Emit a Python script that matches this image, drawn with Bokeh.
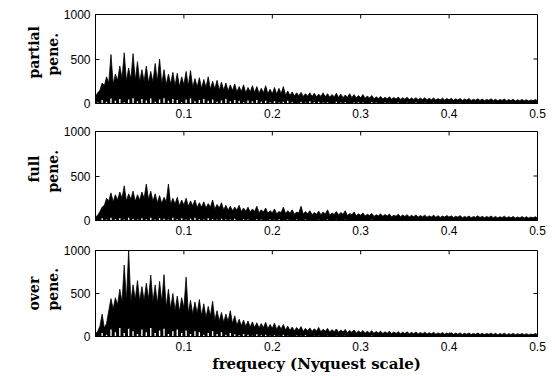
from bokeh.plotting import figure
from bokeh.models import Range1d, FixedTicker, Title
from bokeh.layouts import column
from bokeh.embed import file_html
from bokeh.resources import INLINE

# ---------------- data ----------------
x_ticks = [0.1, 0.2, 0.3, 0.4, 0.5]
y_ticks = [0, 500, 1000]
bin_width = 0.005  # frequency bins of 0.005 (Nyquist scale)
panel_labels = [["partial", "pene."], ["full", "pene."], ["over", "pene."]]
x_label = "frequecy (Nyquest scale)"

# spike tips per bin
partial_peaks = [120, 230, 300, 550, 330, 420, 570, 400, 560, 470,
                 380, 420, 360, 450, 500, 380, 330, 350, 340, 300,
                 360, 370, 280, 290, 270, 300, 250, 260, 240, 230,
                 210, 220, 190, 210, 180, 200, 190, 170, 200, 160,
                 180, 170, 190, 140, 130, 120, 125, 110, 120, 115,
                 105, 120, 110, 100, 115, 105, 95, 110, 100, 90,
                 100, 85, 90, 75, 80, 70, 75, 68, 72, 65,
                 70, 62, 66, 60, 64, 58, 62, 55, 60, 56,
                 58, 52, 56, 50, 55, 48, 53, 50, 46, 52,
                 48, 45, 50, 44, 47, 42, 46, 43, 40, 45]
# dips of the dense black body between spikes
partial_body = [80, 150, 200, 230, 220, 260, 280, 250, 270, 260,
                240, 250, 230, 240, 250, 220, 210, 220, 200, 190,
                210, 200, 180, 185, 170, 180, 160, 165, 150, 150,
                140, 145, 130, 135, 120, 130, 125, 115, 120, 110,
                110, 105, 110, 95, 90, 85, 88, 80, 82, 78,
                75, 80, 75, 70, 74, 68, 65, 70, 66, 62,
                64, 58, 60, 52, 55, 50, 52, 48, 50, 46,
                48, 44, 46, 42, 45, 40, 43, 38, 41, 39,
                40, 36, 39, 35, 38, 34, 37, 35, 32, 36,
                33, 31, 35, 30, 33, 29, 32, 30, 28, 31]
# white gaps under the body, per bin
partial_floor = [10, 40, 20, 55, 30, 50, 15, 45, 60, 25,
                 50, 35, 55, 20, 45, 60, 30, 50, 40, 15,
                 45, 55, 25, 40, 50, 30, 45, 20, 35, 50,
                 25, 40, 30, 15, 35, 25, 40, 20, 30, 15,
                 25, 10, 20, 30, 15, 5, 20, 10, 25, 15,
                 20, 10, 15, 5, 20, 10, 15, 5, 10, 15,
                 10, 5, 15, 10, 5, 12, 8, 5, 10, 6,
                 8, 4, 10, 5, 8, 3, 9, 5, 7, 4,
                 6, 3, 8, 4, 6, 2, 7, 4, 5, 3,
                 6, 2, 5, 3, 6, 2, 4, 3, 5, 2]

full_peaks = [60, 150, 250, 310, 290, 320, 390, 300, 330, 290,
              320, 410, 330, 300, 280, 260, 410, 250, 260, 230,
              250, 220, 230, 200, 210, 190, 230, 180, 200, 170,
              160, 150, 170, 140, 150, 130, 160, 120, 140, 110,
              130, 100, 150, 110, 120, 95, 160, 100, 110, 90,
              105, 95, 120, 85, 100, 90, 110, 80, 95, 75,
              85, 70, 80, 65, 75, 68, 72, 60, 70, 62,
              66, 58, 62, 55, 60, 52, 58, 54, 50, 56,
              52, 48, 55, 46, 50, 44, 52, 47, 45, 50,
              46, 42, 48, 43, 45, 40, 44, 42, 38, 43]
full_body = [40, 100, 170, 220, 210, 230, 250, 220, 240, 215,
             230, 250, 235, 215, 200, 190, 210, 180, 185, 165,
             175, 160, 165, 145, 150, 140, 150, 130, 140, 120,
             115, 110, 118, 100, 105, 95, 100, 88, 95, 82,
             88, 76, 90, 78, 82, 70, 85, 72, 75, 66,
             70, 66, 74, 60, 68, 62, 70, 56, 64, 52,
             58, 50, 55, 46, 52, 47, 50, 42, 48, 43,
             45, 40, 43, 38, 42, 36, 40, 37, 35, 38,
             36, 33, 37, 32, 35, 31, 36, 33, 31, 34,
             32, 29, 33, 30, 31, 28, 30, 29, 27, 30]
full_floor = [5, 25, 10, 30, 15, 25, 10, 30, 20, 10,
              25, 15, 30, 10, 25, 20, 10, 30, 15, 25,
              10, 20, 30, 15, 10, 25, 15, 10, 20, 15,
              10, 20, 5, 15, 10, 5, 15, 10, 5, 12,
              8, 15, 5, 10, 6, 12, 4, 10, 6, 3,
              8, 4, 10, 5, 8, 3, 9, 5, 7, 4,
              6, 3, 8, 4, 6, 2, 7, 4, 5, 3,
              6, 2, 5, 3, 6, 2, 4, 3, 5, 2,
              4, 2, 5, 3, 4, 2, 3, 2, 4, 2,
              3, 2, 4, 2, 3, 2, 3, 2, 3, 2]

over_peaks = [60, 260, 150, 440, 450, 550, 830, 1000, 600, 650,
              580, 620, 715, 600, 640, 720, 550, 500, 470, 450,
              690, 420, 400, 430, 380, 350, 410, 300, 280, 260,
              300, 240, 200, 190, 180, 170, 160, 150, 165, 140,
              155, 130, 140, 120, 110, 105, 115, 95, 100, 90,
              105, 85, 95, 80, 88, 75, 82, 70, 76, 65,
              70, 60, 66, 58, 62, 55, 60, 52, 56, 50,
              54, 48, 52, 46, 50, 44, 48, 42, 46, 40,
              44, 40, 42, 38, 41, 36, 40, 37, 35, 39,
              37, 34, 38, 33, 36, 32, 35, 33, 30, 34]
over_body = [30, 120, 100, 300, 320, 370, 400, 420, 400, 430,
             410, 420, 430, 400, 380, 400, 340, 320, 300, 290,
             330, 270, 260, 270, 240, 220, 240, 190, 180, 165,
             175, 150, 130, 125, 115, 110, 105, 100, 105, 90,
             95, 82, 88, 75, 70, 66, 72, 60, 64, 58,
             64, 54, 60, 50, 55, 48, 52, 45, 48, 42,
             45, 39, 42, 37, 40, 35, 38, 34, 36, 32,
             34, 31, 33, 30, 32, 28, 31, 27, 29, 26,
             28, 25, 27, 24, 26, 23, 25, 24, 22, 25,
             23, 21, 24, 21, 23, 20, 22, 21, 19, 22]
over_floor = [5, 40, 20, 80, 50, 100, 40, 90, 60, 30,
              80, 50, 100, 40, 70, 90, 30, 60, 80, 40,
              70, 30, 60, 50, 20, 40, 60, 30, 50, 20,
              40, 25, 15, 30, 20, 10, 25, 15, 20, 10,
              15, 8, 20, 10, 5, 12, 8, 15, 5, 10,
              8, 4, 10, 5, 8, 3, 9, 5, 7, 4,
              6, 3, 8, 4, 6, 2, 7, 4, 5, 3,
              5, 2, 4, 3, 5, 2, 4, 3, 4, 2,
              3, 2, 4, 2, 3, 2, 3, 2, 3, 2,
              3, 2, 3, 2, 3, 2, 3, 2, 3, 2]

# ---------------- drawing ----------------
TICK_FONT = "Liberation Sans"
LABEL_FONT = "DejaVu Serif"
FRAME_L = 95
FRAME_W, FRAME_H = 442, 89
TICK_PX = 4
X0, X1, Y0, Y1 = 0.0, 0.5, 0.0, 1000.0
# distance (px) of each rotated label line's start above the frame bottom: [outer, inner]
LABEL_START = [[25, 28], [38, 28], [26, 26]]


def style_axis(ax):
    ax.axis_line_color = "black"
    ax.axis_line_width = 1
    ax.major_tick_line_color = "black"
    ax.major_tick_in = TICK_PX
    ax.major_tick_out = 0
    ax.minor_tick_line_color = None
    ax.major_label_text_font = TICK_FONT
    ax.major_label_text_font_size = "12px"
    ax.major_label_text_color = "black"


def make_panel(idx, peaks, body, floor, height, border_top, border_bottom, xlabel=None):
    zx, zy = [], []
    for i in range(len(peaks)):
        zx += [bin_width * i, bin_width * (i + 0.5)]
        zy += [body[i], peaks[i]]
    zx.append(bin_width * len(peaks))
    zy.append(body[-1])
    centres = [bin_width * (i + 0.5) for i in range(len(floor))]

    p = figure(width=549, height=height,
               x_range=Range1d(X0, X1), y_range=Range1d(Y0, Y1),
               output_backend="svg", toolbar_location=None,
               min_border_left=FRAME_L, min_border_right=12,
               min_border_top=border_top, min_border_bottom=border_bottom)
    p.grid.visible = False
    p.background_fill_color = "white"
    p.border_fill_color = "white"
    p.outline_line_color = "black"
    p.outline_line_width = 1
    p.outline_line_alpha = 1

    p.varea(x=zx, y1=[0] * len(zx), y2=zy, fill_color="black")
    p.line(x=zx, y=zy, line_color="black", line_width=0.8)
    p.segment(x0=centres, y0=[0] * len(centres), x1=centres, y1=floor,
              line_color="white", line_width=1.4)

    dy = (Y1 - Y0) * TICK_PX / FRAME_H
    dx = (X1 - X0) * TICK_PX / FRAME_W
    p.segment(x0=x_ticks, y0=[Y1] * len(x_ticks), x1=x_ticks, y1=[Y1 - dy] * len(x_ticks),
              line_color="black", line_width=1)
    p.segment(x0=[X1] * len(y_ticks), y0=y_ticks, x1=[X1 - dx] * len(y_ticks), y1=y_ticks,
              line_color="black", line_width=1)

    xa, ya = p.below[0], p.left[0]
    xa.ticker = FixedTicker(ticks=x_ticks)
    ya.ticker = FixedTicker(ticks=y_ticks)
    style_axis(xa)
    style_axis(ya)
    xa.major_label_standoff = 5
    ya.major_label_standoff = 5

    outer, inner = panel_labels[idx]
    s_outer, s_inner = LABEL_START[idx]
    for text, shift, gap in ((inner, s_inner, 0), (outer, s_outer, 2)):
        p.add_layout(Title(text=text, align="left", offset=shift, standoff=gap,
                           text_font=LABEL_FONT, text_font_style="bold",
                           text_font_size="14px", text_color="black",
                           text_line_height=1.0), "left")
    if xlabel:
        xa.axis_label = xlabel
        xa.axis_label_text_font = LABEL_FONT
        xa.axis_label_text_font_style = "bold"
        xa.axis_label_text_font_size = "15px"
        xa.axis_label_text_color = "black"
        xa.axis_label_standoff = 1
    return p


p1 = make_panel(0, partial_peaks, partial_body, partial_floor, 125, 14, 22)
p2 = make_panel(1, full_peaks, full_body, full_floor, 119, 6, 24)
p3 = make_panel(2, over_peaks, over_body, over_floor, 131, 6, 36, xlabel=x_label)

layout = column(p1, p2, p3, spacing=0)
open("out.html", "w").write(file_html(layout, INLINE))
